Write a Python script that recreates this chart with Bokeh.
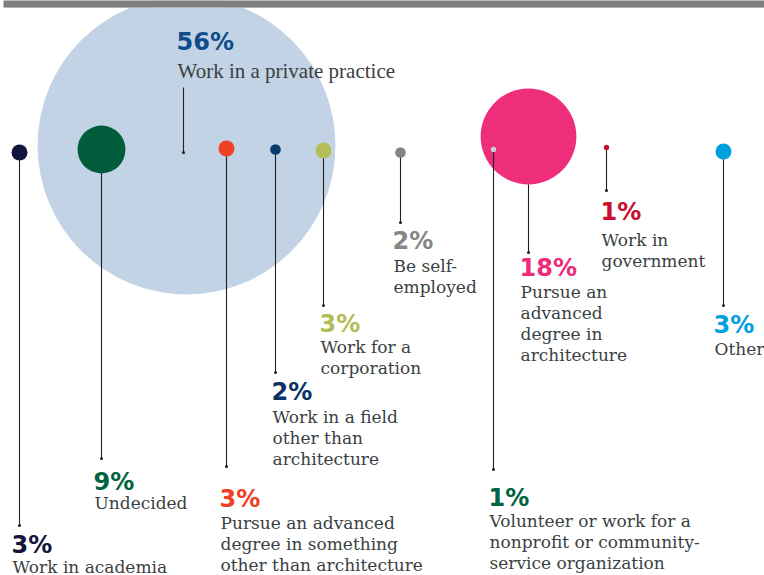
from bokeh.plotting import figure
from bokeh.models import ColumnDataSource, Range1d
from bokeh.core.properties import value
from bokeh.embed import file_html
from bokeh.resources import INLINE

# ---------------- data ----------------
categories = [
    "Work in academia",
    "Undecided",
    "Work in a private practice",
    "Pursue an advanced degree in something other than architecture",
    "Work in a field other than architecture",
    "Work for a corporation",
    "Be self-employed",
    "Volunteer or work for a nonprofit or community-service organization",
    "Pursue an advanced degree in architecture",
    "Work in government",
    "Other",
]
label_lines = [
    ["Work in academia"],
    ["Undecided"],
    ["Work in a private practice"],
    ["Pursue an advanced", "degree in something", "other than architecture"],
    ["Work in a field", "other than", "architecture"],
    ["Work for a", "corporation"],
    ["Be self-", "employed"],
    ["Volunteer or work for a", "nonprofit or community-", "service organization"],
    ["Pursue an", "advanced", "degree in", "architecture"],
    ["Work in", "government"],
    ["Other"],
]
values = [3, 9, 56, 3, 2, 3, 2, 1, 18, 1, 3]

# ---------------- styles ----------------
dot_colors = ["#13153c", "#005c3b", "#c2d3e5", "#ef4123", "#0a3a6e", "#b5bf5a",
              "#858585", "#c8d1cf", "#ee2e7b", "#c8102e", "#00a0df"]
pct_colors = ["#13153c", "#006341", "#0f4c8c", "#ef4123", "#0a3266", "#b3bd55",
              "#868686", "#006341", "#ee2a7b", "#c8102e", "#00a0df"]

# ---------------- layout (reference pixel coordinates) ----------------
dot_x = [19, 101, 186, 226, 275, 323, 400, 493, 528, 606, 723]
dot_y = [152, 149, 145, 148, 149, 150, 152, 149, 136, 147, 151]
lead_x = [19, 101, 183, 226, 275, 323, 400, 493, 528, 606, 723]
lead_y0 = [152, 149, 87, 148, 149, 150, 152, 149, 184, 147, 151]
lead_y1 = [525, 458, 152, 466, 372, 305, 222, 469, 252, 190, 305]
label_x = [11, 93, 176, 219, 271, 319, 392, 488, 519, 600, 713]
pct_base = [544, 481, 41, 498, 391, 323, 240, 497, 267, 211, 324]
body_base = [566, 502, 70, 522, 416, 346, 265, 520, 291, 239, 348]
LINE_H = 21.3
R_PER_PCT = 2.66

W, H = 764, 575

p = figure(width=W, height=H, x_range=Range1d(0, W), y_range=Range1d(H, 0),
           output_backend="svg", toolbar_location=None)
p.axis.visible = False
p.grid.visible = False
p.outline_line_color = None
p.min_border = 0
p.min_border_left = p.min_border_right = p.min_border_top = p.min_border_bottom = 0
p.background_fill_color = "white"
p.border_fill_color = "white"

radii = [v * R_PER_PCT for v in values]

big = [i for i, v in enumerate(values) if v >= 18]
small = [i for i, v in enumerate(values) if v < 18]

big_src = ColumnDataSource(dict(x=[dot_x[i] for i in big], y=[dot_y[i] for i in big],
                                r=[radii[i] for i in big], color=[dot_colors[i] for i in big]))
small_src = ColumnDataSource(dict(x=[dot_x[i] for i in small], y=[dot_y[i] for i in small],
                                  r=[radii[i] for i in small], color=[dot_colors[i] for i in small]))

p.circle(x="x", y="y", radius="r", fill_color="color", line_color=None, source=big_src)

lead_src = ColumnDataSource(dict(x0=lead_x, y0=lead_y0, x1=lead_x, y1=lead_y1))
p.segment(x0="x0", y0="y0", x1="x1", y1="y1", line_color="#231f20", line_width=1.1, source=lead_src)
p.scatter(x="x1", y="y1", size=3, fill_color="#231f20", line_color=None, source=lead_src)

p.circle(x="x", y="y", radius="r", fill_color="color", line_color=None, source=small_src)

# percentages
pct_src = ColumnDataSource(dict(x=label_x, y=pct_base, text=[f"{v}%" for v in values], color=pct_colors))
p.text(x="x", y="y", text="text", text_color="color", source=pct_src,
       text_font=value("DejaVu Sans"), text_font_style="bold",
       text_font_size="24px", text_baseline="alphabetic", text_align="left")

# body text lines
bx, by, bt = [], [], []
px, py, pt = [], [], []
for i, lines in enumerate(label_lines):
    for j, line in enumerate(lines):
        if values[i] >= 50:
            px.append(label_x[i] + 1); py.append(body_base[i] + j * LINE_H); pt.append(line)
        else:
            bx.append(label_x[i] + 1); by.append(body_base[i] + j * LINE_H); bt.append(line)

p.text(x="x", y="y", text="text", source=ColumnDataSource(dict(x=bx, y=by, text=bt)),
       text_font=value("DejaVu Serif"), text_font_size="17px",
       text_color="#3a3f44", text_baseline="alphabetic", text_align="left")
p.text(x="x", y="y", text="text", source=ColumnDataSource(dict(x=px, y=py, text=pt)),
       text_font=value("Liberation Serif"), text_font_size="21px",
       text_color="#3d3d3d", text_baseline="alphabetic", text_align="left")

# grey header band at the top
p.quad(left=[3], right=[W], top=[-2], bottom=[6.6], fill_color="#7f7f80", line_color=None)
p.quad(left=[3], right=[W], top=[6.6], bottom=[7.6], fill_color="#b4b4b4", line_color=None)

open("out.html", "w").write(file_html(p, INLINE))
